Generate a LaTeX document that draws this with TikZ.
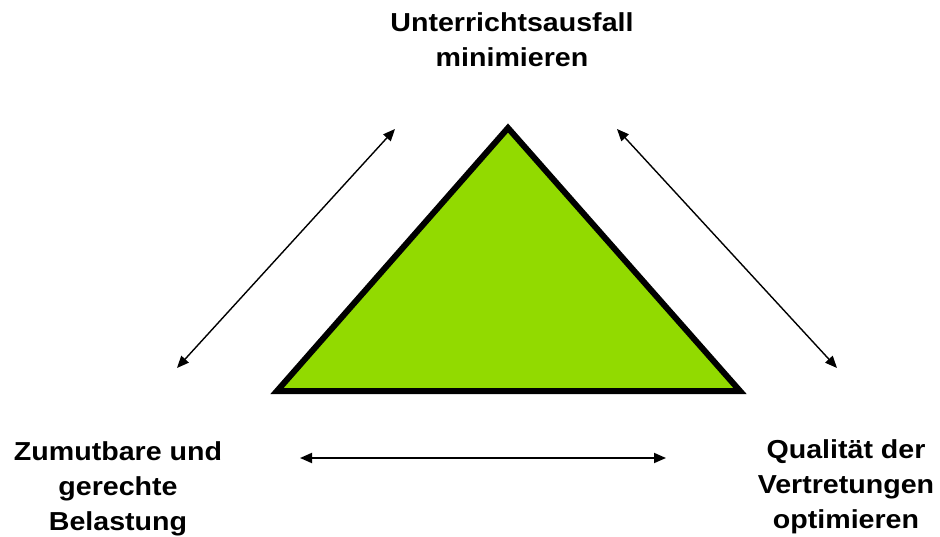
\documentclass[tikz,border=0pt]{standalone}
\usepackage{fontspec}
\setmainfont{Liberation Sans}
\usetikzlibrary{arrows.meta}
\definecolor{trigreen}{RGB}{146,218,0}
\newcommand\wl[1]{\scalebox{1.1}[1]{#1}}
\tikzset{
  lbl/.style={font=\fontsize{26}{35}\selectfont\bfseries, align=center, inner sep=0pt, anchor=base},
  dblarrow/.style={line width=1.4pt, {Triangle[length=12pt,width=10pt]}-{Triangle[length=12pt,width=10pt]}},
  tri/.style={fill=trigreen, draw=black, line width=6pt, line join=miter}
}
\begin{document}
\begin{tikzpicture}[x=1pt,y=-1pt]
\useasboundingbox[fill=white] (0,0) rectangle (940,537);
% triangle
\coordinate (apex) at (508,128);
\coordinate (bl) at (277,391);
\coordinate (br) at (740,391);
\draw[tri] (apex) -- (bl) -- (br) -- cycle;
% arrow end points
\coordinate (a1) at (177,368);
\coordinate (a2) at (395,129);
\coordinate (b1) at (617,129);
\coordinate (b2) at (837,368);
\coordinate (c1) at (300,458);
\coordinate (c2) at (666,458);
\draw[dblarrow] (a1) -- (a2);
\draw[dblarrow] (b1) -- (b2);
\draw[dblarrow, line width=1.8pt] (c1) -- (c2);
% labels (base anchor = baseline of the last line)
\node[lbl] (top) at (512,67) {\wl{Unterrichtsausfall}\\\wl{minimieren}};
\node[lbl] (left) at (118,530) {\wl{Zumutbare und}\\\wl{gerechte}\\\wl{Belastung}};
\node[lbl] (right) at (846,528) {\wl{Qualität der}\\\wl{Vertretungen}\\\wl{optimieren}};
\end{tikzpicture}
\end{document}
